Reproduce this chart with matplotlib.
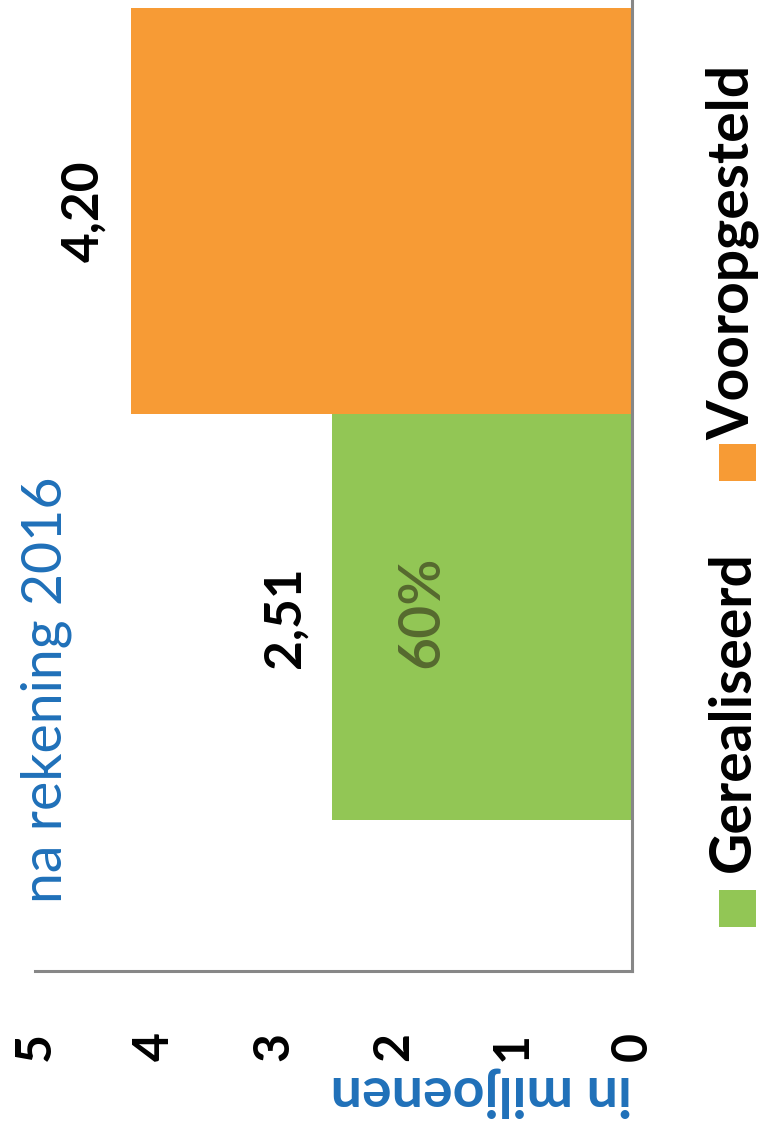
# Rotated bar chart: realised vs planned (in millions)
import matplotlib
matplotlib.use("Agg")
import matplotlib.pyplot as plt
from matplotlib.patches import Rectangle

# Data
series = ["Gerealiseerd", "Vooropgesteld"]
values = [2.51, 4.20]
value_labels = ["2,51", "4,20"]
x_ticks = [0, 1, 2, 3, 4, 5]
title = "na rekening 2016"
axis_title = "in miljoenen"

# Styles
bar_colors = ["#92C655", "#F79B35"]
blue = "#1F70B9"
grey = "#878787"

plt.rcParams["font.family"] = ["Lato", "DejaVu Sans"]

fig = plt.figure(figsize=(7.64, 11.4), dpi=100)
W, H = 764, 1140
ax = fig.add_axes([35 / W, 1 - 971 / H, 597 / W, 971 / H])

# one category, two series side by side
bar_h = 0.4
offsets = [-bar_h / 2, bar_h / 2]
bars = ax.barh(offsets, values, height=bar_h, color=bar_colors)

ax.set_xlim(5, 0)
ax.set_ylim(-0.549, 0.408)
ax.set_xticks(x_ticks)
ax.set_xticklabels([str(t) for t in x_ticks], rotation=90, fontsize=36,
                   fontweight="bold")
ax.tick_params(axis="x", length=0, pad=44)
ax.set_yticks([])

for side in ["left", "top"]:
    ax.spines[side].set_visible(False)
for side in ["right", "bottom"]:
    ax.spines[side].set_color(grey)
    ax.spines[side].set_linewidth(2.2)

# value labels beyond the bar ends
for y, v, lab in zip(offsets, values, value_labels):
    ax.annotate(lab, xy=(v, y), xytext=(-17, 0), textcoords="offset points",
                rotation=90, ha="right", va="center", fontsize=37,
                fontweight="bold", color="black")

# share realised inside the green bar
pct = round(values[0] / values[1] * 100)
ax.text(values[0] * 0.7, offsets[0] + 0.005, f"{pct}%", rotation=90,
        ha="center", va="center", fontsize=41, fontweight="semibold",
        color="#56692F")

ax.set_xlabel(axis_title, loc="right", rotation=180, fontsize=40,
              fontweight="bold", color=blue, labelpad=4)

fig.text(46 / W, 1 - 690 / H, title, rotation=90, ha="center", va="center",
         fontsize=40, color=blue)

# legend, drawn by hand because it is rotated
sq_y = [890, 444]
text_end = [872, 440]
for name, col, sy, te in zip(series, bar_colors, sq_y, text_end):
    fig.add_artist(Rectangle((719 / W, 1 - (sy + 37) / H), 37 / W, 37 / H,
                             transform=fig.transFigure, color=col, lw=0))
    fig.text(733 / W, 1 - te / H, name, rotation=90, ha="center", va="bottom",
             fontsize=41, fontweight="bold", color="black")

fig.savefig("out.png", dpi=100)
